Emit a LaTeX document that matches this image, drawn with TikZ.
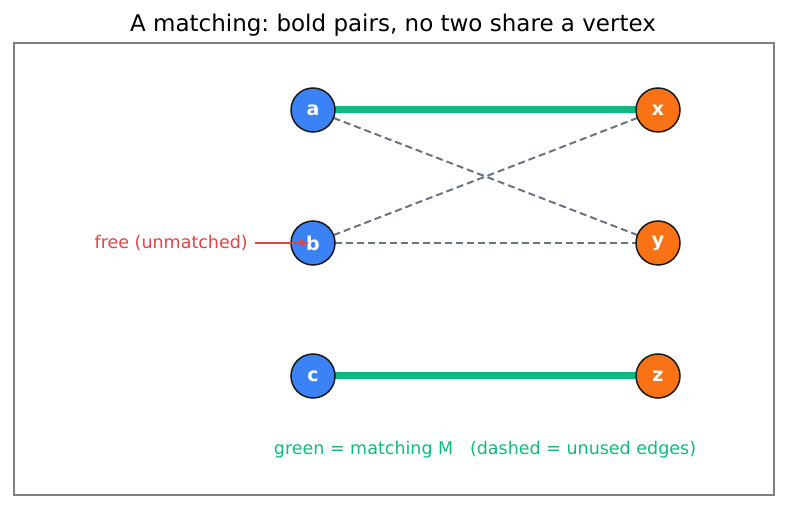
\documentclass[tikz,border=0pt]{standalone}
\usepackage{fontspec}
\setmainfont{DejaVu Sans}
\usetikzlibrary{arrows.meta}
\frenchspacing

\pgfdeclarelayer{edges}
\pgfsetlayers{edges,main}

\tikzset{
  leftvertex/.style={circle, minimum size=44pt, inner sep=0pt, fill=leftfill, draw=black!90, line width=1.5pt, text=white, font=\fontsize{19}{21}\selectfont\bfseries},
  rightvertex/.style={leftvertex, fill=rightfill},
  matchedge/.style={draw=matchgreen, line width=7pt},
  unusededge/.style={draw=edgegray, line width=2pt, dash pattern=on 7pt off 4pt},
}

\begin{document}
\begin{tikzpicture}[x=1pt, y=-1pt]
  % Define colors
  \definecolor{leftfill}{HTML}{3B82F6}
  \definecolor{rightfill}{HTML}{F97316}
  \definecolor{matchgreen}{HTML}{10B981}
  \definecolor{edgegray}{HTML}{6B7280}
  \definecolor{freered}{HTML}{E04444}

  \useasboundingbox (0,0) rectangle (787,510);

  % Title and frame
  \node[font=\fontsize{23}{26}\selectfont] (title) at (393,25) {A matching: bold pairs, no two share a vertex};
  \draw[draw=black!50, line width=1.2pt] (14,43) rectangle (774,495);

  % Vertices
  \node[leftvertex] (a) at (313,110) {a};
  \node[leftvertex] (b) at (313,243) {b};
  \node[leftvertex] (c) at (313,376) {c};
  \node[rightvertex] (x) at (658,110) {x};
  \node[rightvertex] (y) at (658,243) {y};
  \node[rightvertex] (z) at (658,376) {z};

  % Edges (behind the vertices)
  \begin{pgfonlayer}{edges}
    \path[unusededge] (a.center) -- (y.center);
    \path[unusededge] (b.center) -- (x.center);
    \path[unusededge] (b.center) -- (y.center);
    \path[matchedge] (a.center) -- (x.center);
    \path[matchedge] (c.center) -- (z.center);
  \end{pgfonlayer}

  % Free vertex annotation
  \node[anchor=east, text=freered, font=\fontsize{17.5}{20}\selectfont, inner sep=0pt] (free) at (248,243) {free (unmatched)};
  \coordinate (freetip) at (309,243);
  \draw[-{Stealth[length=10pt, width=8pt]}, draw=freered, line width=1.8pt] ([xshift=7pt]free.east) -- (freetip);

  % Legend
  \node[text=matchgreen, font=\fontsize{17.5}{20}\selectfont] (legend) at (485,450) {green = matching M \ \ (dashed = unused edges)};
\end{tikzpicture}
\end{document}
